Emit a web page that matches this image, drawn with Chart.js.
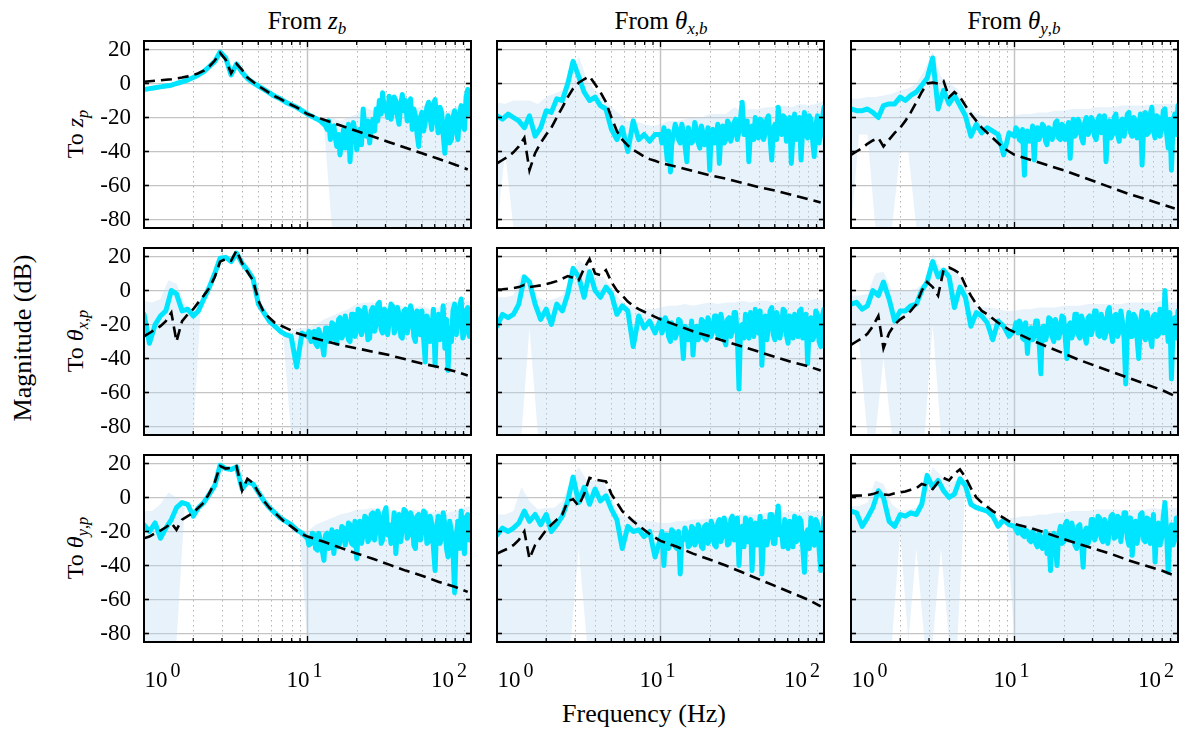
<!DOCTYPE html>
<html>
<head>
<meta charset="utf-8">
<title>Magnitude plots</title>
<script src="https://cdn.jsdelivr.net/npm/chart.js@4.4.1/dist/chart.umd.min.js"></script>
<style>
  body { margin: 0; width: 1183px; height: 730px; background: #fff; position: relative; overflow: hidden;
         font-family: "Liberation Serif", "DejaVu Serif", serif; color: #000; }
  canvas { position: absolute; }
  .txt { position: absolute; white-space: nowrap; line-height: 30px; }
  .title { font-size: 25px; top: 6px; transform: translateX(-50%); }
  .rowlbl { font-size: 24px; transform: translate(-50%, -50%) rotate(-90deg); }
  .axlbl { font-size: 26px; }
  sub { font-size: 0.68em; vertical-align: -0.3em; line-height: 0; }
</style>
</head>
<body>
<div class="txt title" style="left:307px">From <i>z</i><sub><i>b</i></sub></div>
<div class="txt title" style="left:661px">From <i>θ</i><sub><i>x</i>,<i>b</i></sub></div>
<div class="txt title" style="left:1014px">From <i>θ</i><sub><i>y</i>,<i>b</i></sub></div>
<div class="txt rowlbl" style="left:75px;top:134px">To <i>z</i><sub><i>p</i></sub></div>
<div class="txt rowlbl" style="left:75px;top:341px">To <i>θ</i><sub><i>x</i>,<i>p</i></sub></div>
<div class="txt rowlbl" style="left:75px;top:548px">To <i>θ</i><sub><i>y</i>,<i>p</i></sub></div>
<div class="txt rowlbl axlbl" style="left:23px;top:338px">Magnitude (dB)</div>
<div class="txt axlbl" style="left:644px;top:699px;transform:translateX(-50%)">Frequency (Hz)</div>
<script>
// frequency grids (Hz): 30 points in the first decade, 101 in the second
const freqHz = [
  1.00,1.08,1.17,1.26,1.36,1.47,1.58,1.71,1.85,2.00,
  2.15,2.32,2.51,2.71,2.92,3.16,3.41,3.68,3.98,4.29,
  4.64,5.01,5.41,5.84,6.31,6.81,7.36,7.94,8.58,9.26,
  10.0,10.2,10.5,10.7,11.0,11.2,11.5,11.7,12.0,12.3,
  12.6,12.9,13.2,13.5,13.8,14.1,14.5,14.8,15.1,15.5,
  15.8,16.2,16.6,17.0,17.4,17.8,18.2,18.6,19.1,19.5,
  20.0,20.4,20.9,21.4,21.9,22.4,22.9,23.4,24.0,24.5,
  25.1,25.7,26.3,26.9,27.5,28.2,28.8,29.5,30.2,30.9,
  31.6,32.4,33.1,33.9,34.7,35.5,36.3,37.2,38.0,38.9,
  39.8,40.7,41.7,42.7,43.7,44.7,45.7,46.8,47.9,49.0,
  50.1,51.3,52.5,53.7,55.0,56.2,57.5,58.9,60.3,61.7,
  63.1,64.6,66.1,67.6,69.2,70.8,72.4,74.1,75.9,77.6,
  79.4,81.3,83.2,85.1,87.1,89.1,91.2,93.3,95.5,97.7,
  100
];
const modelHz = [
  1.00,1.08,1.17,1.26,1.36,1.47,1.58,1.71,1.85,2.00,
  2.15,2.32,2.51,2.71,2.92,3.16,3.41,3.68,3.98,4.29,
  4.64,5.01,5.41,5.84,6.31,6.81,7.36,7.94,8.58,9.26,
  10.0,12.6,15.8,20.0,25.1,31.6,39.8,50.1,63.1,79.4,95.5
];
const bandHz = [
  1.00,1.12,1.26,1.41,1.58,1.78,2.00,2.24,2.51,2.82,
  3.16,3.55,3.98,4.47,5.01,5.62,6.31,7.08,7.94,8.91,
  10.0,11.2,12.6,14.1,15.8,17.8,20.0,22.4,25.1,28.2,
  31.6,35.5,39.8,44.7,50.1,56.2,63.1,70.8,79.4,89.1,100
];

const yTicksDb = [-80, -60, -40, -20, 0, 20];
const xMajorHz = [1, 10, 100];
const xMajorExp = ['0', '1', '2'];
const xMinorHz = [2, 3, 4, 5, 6, 7, 8, 9, 20, 30, 40, 50, 60, 70, 80, 90];

// ---- row 1: to z_p ----
const meas11 = [
  -3.5,-3,-2.5,-2,-1.5,-1,0,1,2,3.5, 5,7,10,13,18.5,15,5,11.5,6.5,3, 0.5,-1.5,-3.5,-5.5,-7.5,-9,-11,-12.5,-14,-16,
  -18,-18.5,-19,-19.5,-20,-20.5,-21,-21.5,-22,-23, -24,-25,-27,-22,-33,-26,-25,-32,-37,-30,
  -42,-35,-27,-38,-33,-24,-46,-30,-23,-28, -39,-33,-27,-36,-15,-25,-31,-22,-35,-26,
  -21,-28,-15,-22,-10,-18,-5.5,-16,-13,-20, -7.5,-21,-17,-8,-10,-19,-24,-12,-6.5,-16,
  -10,-22,-17,-9,-27,-15,-19,-30,-37,-20, -17,-28,-23,-14,-11,-20,-27,-12,-9.5,-22,
  -29,-14,-17,-30,-41,-24,-19,-35,-33,-20, -16,-28,-33,-18,-13,-25,-27,-8,-3.5,-18,
  -9.5
];
const model11 = [
  1.0,1.3,1.6,1.9,2.2,2.5,3,3.5,4.2,5, 6,7.5,10,13.5,18,14,6,11.5,8,3.5, 1,-1.5,-3.5,-5.5,-7.5,-9,-11,-12.5,-14,-16,
  -18,-21.3,-24.6,-28,-31.2,-34.5,-37.8,-41,-44.3,-47.6,-50.6
];
const bandHi11 = [
  -3.5,-2.8,-2,-1.2,0,1.5,3.5,6,10,16, 15,8,7,2,-1.5,-4.5,-7.5,-10,-12.5,-15,
  -18,-20,-22,-20,-22,-20,-18,-14,-16,-12, -8,-10,-8,-14,-14,-12,-14,-17,-14,-12,-5
];
const bandLo11 = [
  -3.5,-2.8,-2,-1.2,0,1.5,3.5,6,10,16, 15,8,7,2,-1.5,-4.5,-7.5,-10,-12.5,-15,
  -18,-20,-24,-85,-85,-85,-85,-85,-85,-85, -85,-85,-85,-85,-85,-85,-85,-85,-85,-85,-85
];

const meas12 = [
  -19,-21,-18,-20,-22,-26,-19,-31,-26,-16, -17,-9,-10,0,13,4,-5,-10,-8,-13, -15,-27,-33,-26,-40,-22,-33,-30,-34,-30,
  -30,-35,-26,-33,-45,-28,-52,-36,-30,-24, -27,-33,-35,-24,-28,-36,-46,-26,-29,-35,
  -34,-23,-27,-35,-38,-25,-29,-36,-34,-26, -51,-30,-27,-35,-32,-24,-47,-30,-25,-35,
  -33,-22,-24,-34,-30,-23,-21,-33,-28,-20, -11,-30,-30,-22,-46,-28,-25,-33,-20,-31,
  -32,-21,-22,-33,-29,-21,-19,-32,-45,-27, -24,-33,-14,-26,-30,-19,-20,-34,-28,-20,
  -47,-30,-18,-33,-27,-20,-45,-26,-17,-30, -32,-19,-21,-33,-43,-25,-19,-35,-30,-21,
  -14
];
const model12 = [
  -47,-45,-43,-40.5,-37,-32,-51,-41,-35,-30, -26,-20,-14,-8,-3,0.5,2.5,4.2,-0.5,-5, -11,-20,-28,-33,-36.5,-39,-41,-43,-44.5,-45.5,
  -46.7,-49,-51.5,-54,-56,-58.5,-61,-63,-65.5,-68,-70
];
const bandHi12 = [
  -11,-12,-10,-10,-10,-12,-8,-6,-4,4, 16,2,-4,-8,-14,-18,-22,-22,-24,-25,
  -24,-22,-22,-21,-20,-20,-18,-18,-18,-14, -16,-15,-15,-14,-14,-13,-14,-12,-13,-12,-10
];
const bandLo12 = [
  -85,-40,-85,-85,-85,-85,-85,-85,-85,-85, -85,-85,-85,-85,-85,-85,-85,-85,-85,-85,
  -85,-85,-85,-85,-85,-85,-85,-85,-85,-85, -85,-85,-85,-85,-85,-85,-85,-85,-85,-85,-85
];

const meas13 = [
  -15,-16,-16,-15,-17,-20,-13,-12,-12,-8, -10,-7,-5,-1,3,15,-15,-4,-12,-7, -13,-19,-31,-24,-29,-26,-28,-30,-42,-29,
  -31,-26,-28,-33,-34,-27,-54,-30,-28,-34, -32,-25,-45,-29,-26,-33,-30,-24,-25,-34,
  -36,-26,-27,-33,-30,-23,-22,-32,-33,-24, -25,-33,-31,-23,-44,-27,-21,-31,-29,-21,
  -24,-32,-35,-23,-20,-30,-28,-20,-22,-31, -33,-21,-19,-29,-28,-19,-46,-26,-22,-32,
  -30,-20,-18,-30,-34,-22,-21,-31,-26,-18, -17,-29,-31,-20,-22,-32,-28,-18,-48,-25,
  -17,-30,-29,-18,-14,-28,-32,-19,-20,-31, -27,-16,-15,-29,-38,-21,-51,-24,-18,-30,
  -13
];
const model13 = [
  -42,-40,-38,-35.5,-33.5,-32,-37,-33,-29,-26, -22,-17,-11,-5,0,0.5,0,1.5,-8,-5, -8,-13,-18,-22,-26,-29,-32,-35,-38,-40,
  -42,-45,-48,-51,-54.5,-58,-61.5,-65,-68,-71,-73.5
];
const bandHi13 = [
  -9,-9,-8,-8,-7,-6,-4,-3,0,8, 19,4,0,-3,-12,-17,-19,-20,-20,-20,
  -19,-18,-18,-17,-17,-16,-16,-15,-15,-15, -14,-14,-14,-13,-13,-13,-13,-12,-12,-12,-12
];
const bandLo13 = [
  -85,-30,-30,-85,-85,-85,-40,-40,-85,-85, -85,-85,-85,-85,-85,-85,-85,-85,-85,-85,
  -85,-85,-85,-85,-85,-85,-85,-85,-85,-85, -85,-85,-85,-85,-85,-85,-85,-85,-85,-85,-85
];

// ---- row 2: to theta_x,p ----
const meas21 = [
  -14,-31,-20,-15,-12,0,-2,-12,-11,-15, -12,-5,2,10,19,19.5,17,22,16,12, 7,-8,-13,-18,-21,-24,-26,-27,-45,-25,
  -27,-24,-30,-25,-24,-31,-33,-23,-26,-32, -38,-22,-22,-30,-29,-19,-20,-29,-31,-17,
  -16,-28,-26,-15,-19,-29,-30,-14,-14,-27, -24,-11,-12,-26,-22,-10,-16,-29,-28,-12,
  -10,-24,-20,-8,-7,-23,-25,-11,-12,-26, -18,-8,-9,-25,-22,-10,-14,-27,-28,-12,
  -11,-25,-20,-9,-13,-27,-30,-12,-16,-26, -12,-28,-42,-15,-18,-30,-25,-11,-44,-18,
  -14,-29,-21,-9,-34,-17,-47,-22,-30,-12, -8,-26,-20,-10,-5,-28,-25,-12,-10,-27,
  -15
];
const model21 = [
  -27,-25,-23,-21,-18,-13,-30,-18,-14,-11, -7,-3,1.5,8,17,18.5,17.5,23.5,16,11, 6,-6,-13,-16,-19,-20.5,-22,-23.5,-25,-26,
  -27,-29.5,-32,-34,-36,-38,-40.5,-43,-45,-47.5,-50
];
const bandHi21 = [
  -6,-7,-5,6,4,-8,-12,-5,2,12, 19.5,20,16,9,-8,-16,-21,-25,-24,-22,
  -22,-20,-17,-15,-13,-11,-8,-7,-7,-9, -9,-8,-10,-10,-9,-11,-10,-7,-6,-6,-6
];
const bandLo21 = [
  -85,-85,-85,-85,-85,-85,-85,-5,2,12, 19.5,20,16,9,-8,-16,-21,-25,-85,-85,
  -85,-85,-85,-85,-85,-85,-85,-85,-85,-85, -85,-85,-85,-85,-85,-85,-85,-85,-85,-85,-85
];

const meas22 = [
  -21,-14,-16,-14,-8,8,5,-8,-17,-11, -20,-8,-12,-2,13,8,-4,11,0,-4, 2,-2,-14,-9,-12,-33,-15,-22,-18,-25,
  -17,-25,-22,-16,-19,-27,-30,-19,-22,-28, -25,-17,-18,-27,-40,-21,-23,-29,-28,-18,
  -38,-24,-21,-29,-26,-17,-18,-28,-29,-16, -20,-27,-24,-15,-15,-26,-27,-14,-19,-29,
  -32,-17,-16,-27,-24,-13,-13,-26,-58,-22, -20,-28,-14,-25,-28,-13,-17,-27,-11,-24,
  -25,-12,-44,-20,-15,-29,-22,-12,-10,-26, -29,-13,-16,-28,-23,-11,-12,-26,-31,-15,
  -18,-28,-14,-25,-27,-12,-11,-28,-22,-14, -43,-20,-16,-29,-27,-12,-14,-30,-33,-15,
  -11
];
const model22 = [
  0.5,0.7,1,1.4,2,3.3,2,2.5,3,3.8, 4.5,5.5,7,8.5,7.5,6,13,18.5,10,9, 12,5,0,-3,-6.5,-9,-11,-12.5,-14,-15.5,
  -17,-20.5,-24,-27,-30,-33,-36,-39,-42,-44.5,-47
];
const bandHi22 = [
  -4,-4,-3,10,6,-4,-6,-5,-3,8, 18,14,9,8,2,-5,-9,-10,-11,-11,
  -10,-9,-9,-8,-9,-8,-7,-8,-7,-7, -6,-7,-6,-6,-7,-6,-6,-6,-6,-5,-6
];
const bandLo22 = [
  -85,-85,-85,-85,-22,-85,-85,-85,-85,-85, -85,-85,-85,-85,-85,-85,-85,-85,-85,-85,
  -85,-85,-85,-85,-85,-85,-85,-85,-85,-85, -85,-85,-85,-85,-85,-85,-85,-85,-85,-85,-85
];

const meas23 = [
  -8,-7,-11,-9,0,-3,5,-5,-18,-12, -12,-9,-8,0,5,17,8,12,8,-10, 2,-4,-21,-13,-15,-19,-29,-18,-21,-27,
  -23,-19,-25,-18,-20,-28,-29,-19,-37,-23, -22,-29,-27,-18,-18,-28,-49,-22,-21,-29,
  -26,-16,-17,-27,-30,-17,-20,-28,-24,-15, -16,-27,-40,-21,-19,-28,-25,-14,-14,-26,
  -28,-15,-18,-27,-31,-16,-15,-26,-22,-12, -12,-26,-27,-14,-17,-28,-25,-12,-10,-24,
  -30,-15,-14,-27,-24,-12,-18,-28,-55,-22, -13,-27,-27,-14,-16,-28,-40,-19,-12,-26,
  -29,-13,-17,-28,-33,-15,-14,-27,-26,-11, -12,-25,0,-18,-30,-13,-52,-22,-16,-28,
  -12
];
const model23 = [
  -32,-30,-28,-25.5,-21,-15,-34,-25,-20,-17, -15,-12,-8,0,5,2,-3,12,13.5,12, 10,3,-3,-8,-12,-14,-16.5,-19,-21,-23,
  -24.5,-29,-33,-37,-41,-44.5,-48,-51.5,-55,-58.5,-62
];
const bandHi23 = [
  -3,-3,-2,10,11,0,0,0,1,5, 22,13,13,10,2,-8,-10,-10,-11,-12,
  -12,-11,-11,-10,-10,-10,-9,-9,-9,-8, -8,-8,-8,-8,-7,-7,-7,-7,-6,-7,-7
];
const bandLo23 = [
  -30,-30,-85,-85,-40,-85,-85,-85,-85,-85, -20,-85,-85,-85,-85,-85,-85,-85,-85,-85,
  -85,-85,-85,-85,-85,-85,-85,-85,-85,-85, -85,-85,-85,-85,-85,-85,-85,-85,-85,-85,-85
];

// ---- row 3: to theta_y,p ----
const meas31 = [
  -16,-20,-15,-24,-18,-13,-6,-3,-4,-11, -6,-3,2,7,19,17,16.5,18,5,9, 8,3,-2,-6,-9,-12,-14,-16,-19,-21,
  -24,-28,-27,-21,-22,-30,-31,-21,-25,-31, -37,-22,-21,-30,-28,-19,-33,-23,-20,-29,
  -26,-17,-18,-28,-24,-15,-16,-27,-28,-14, -36,-20,-14,-27,-22,-11,-12,-26,-24,-10,
  -9,-25,-19,-8,-11,-27,-25,-9,-6,-22, -16,-27,-21,-9,-33,-18,-10,-26,-18,-7,
  -8,-24,-22,-9,-12,-28,-30,-11,-10,-25, -20,-8,-9,-27,-26,-11,-15,-29,-43,-17,
  -11,-27,-24,-9,-16,-30,-35,-14,-20,-32, -56,-22,-14,-30,-8,-26,-33,-12,-10,-25,
  -18
];
const model31 = [
  -24,-23,-21,-19.5,-17.5,-15,-19,-13,-11,-9, -6,-3,2.5,9,18.5,17,17.5,18.5,4,11, 8.5,3,-2,-6,-9,-12,-15,-17,-19.5,-21.5,
  -23,-26,-29.5,-33,-36,-39.5,-43,-46,-49.5,-52.5,-55.5
];
const bandHi31 = [
  -8,-8,-4,3,0,-3,-11,-6,2,12, 19,17,7,8,3,-4,-9,-13,-16,-20,
  -20,-16,-14,-12,-10,-9,-7,-7,-6,-8, -7,-8,-8,-7,-8,-9,-8,-9,-8,-6,-5
];
const bandLo31 = [
  -85,-85,-85,-85,-85,-3,-11,-6,2,12, 19,17,7,8,3,-4,-9,-13,-16,-20,
  -85,-85,-85,-85,-85,-85,-85,-85,-85,-85, -85,-85,-85,-85,-85,-85,-85,-85,-85,-85,-85
];

const meas32 = [
  -22,-18,-20,-18,-15,-8,-14,-10,-16,-10, -20,-16,-11,-2,12,-3,6,-4,5,-2, 1,-7,-13,-30,-17,-20,-19,-23,-20,-35,
  -24,-20,-40,-22,-22,-30,-27,-19,-20,-29, -30,-20,-45,-24,-25,-18,-21,-29,-28,-17,
  -18,-28,-26,-16,-19,-29,-30,-17,-16,-27, -25,-14,-17,-28,-29,-15,-13,-26,-22,-12,
  -16,-28,-27,-13,-11,-25,-24,-12,-40,-20, -17,-29,-12,-26,-26,-13,-43,-21,-15,-28,
  -21,-11,-45,-24,-14,-28,-23,-10,-10,-27, -27,-12,-5,-22,-20,-29,-13,-27,-30,-14,
  -16,-29,-11,-26,-25,-12,-14,-29,-44,-22, -19,-30,-12,-27,-28,-13,-15,-30,-43,-20,
  -12
];
const model32 = [
  -33,-31.5,-30,-28,-25,-20,-36,-28,-23.5,-19, -16,-13,-10,-2,-1,-5,2,11.5,10.5,10, 9.5,2,-3,-8,-11,-14,-16.5,-19,-21.5,-23.5,
  -25.5,-29,-33,-36.5,-40,-44,-48,-52,-56,-60,-64
];
const bandHi32 = [
  -10,-10,-8,6,-2,-7,-6,-6,-2,10, 18,10,10,9,0,-10,-12,-13,-14,-14,
  -15,-15,-14,-14,-13,-13,-12,-12,-11,-11, -10,-10,-10,-9,-9,-9,-8,-9,-8,-8,-8
];
const bandLo32 = [
  -85,-85,-85,-85,-85,-85,-85,-85,-85,-85, -30,-85,-85,-85,-85,-85,-85,-85,-85,-85,
  -85,-85,-85,-85,-85,-85,-85,-85,-85,-85, -85,-85,-85,-85,-85,-85,-85,-85,-85,-85,-85
];

const meas33 = [
  -8,-9,-17,-12,-6,4,0,-14,-17,-10, -11,-9,-10,-4,13,6,10,4,0,2, 11,7,-4,-6,-7,-8,-11,-17,-13,-16,
  -17,-19,-21,-18,-19,-22,-23,-19,-20,-25, -26,-20,-22,-27,-29,-21,-24,-30,-27,-20,
  -33,-22,-43,-25,-21,-29,-40,-22,-17,-27, -26,-16,-14,-25,-24,-15,-19,-28,-30,-17,
  -16,-27,-41,-20,-18,-27,-24,-13,-13,-25, -22,-11,-12,-24,-26,-13,-15,-27,-20,-11,
  -10,-24,-23,-11,-12,-26,-18,-9,-9,-24, -28,-12,-34,-18,-14,-27,-22,-10,-9,-25,
  -26,-12,-13,-27,-20,-10,-38,-18,-15,-28, -24,-11,-3,-20,-44,-24,-16,-28,-25,-12,
  -12
];
const model33 = [
  1,1.1,1.2,1.4,2,3.2,1.8,1.5,2.5,3, 3.5,4.5,5.5,8,7,5,9,11.5,10,14, 16.5,12,5.5,0,-3,-5.5,-8,-10,-12,-14,
  -15.5,-18,-21,-24.5,-27.5,-30.5,-33.5,-37,-40,-43,-46
];
const bandHi33 = [
  -5,-5,-3,10,8,-4,-8,-7,-6,3, 18,13,9,10,8,-2,-5,-8,-10,-12,
  -12,-11,-11,-10,-10,-9,-9,-8,-8,-8, -7,-7,-7,-7,-8,-7,-7,-6,-7,-6,-6
];
const bandLo33 = [
  -85,-85,-85,-85,-85,-85,-20,-85,-30,-85, -85,-30,-85,-85,8,-2,-5,-8,-10,-12,
  -85,-85,-85,-85,-85,-85,-85,-85,-85,-85, -85,-85,-85,-85,-85,-85,-85,-85,-85,-85,-85
];

const panels = [
  [[meas11, model11, bandHi11, bandLo11], [meas12, model12, bandHi12, bandLo12], [meas13, model13, bandHi13, bandLo13]],
  [[meas21, model21, bandHi21, bandLo21], [meas22, model22, bandHi22, bandLo22], [meas23, model23, bandHi23, bandLo23]],
  [[meas31, model31, bandHi31, bandLo31], [meas32, model32, bandHi32, bandLo32], [meas33, model33, bandHi33, bandLo33]]
];

// layout of the plot boxes on the page
const plotLeft = [144, 497, 851];
const plotTop = [41, 248, 455];
const plotW = 327, plotH = 187;
const padL = 70, padR = 6, padT = 6, padB = 55;
const serif = '"Liberation Serif", "DejaVu Serif", serif';

function xy(xs, ys) {
  return xs.map((x, i) => ({ x: x, y: ys[i] }));
}

function line(ctx, x1, y1, x2, y2) {
  ctx.beginPath();
  ctx.moveTo(x1, y1);
  ctx.lineTo(x2, y2);
  ctx.stroke();
}

// grid on the log axis, box, inner ticks and 10^n labels
const bodeFrame = {
  id: 'bodeFrame',
  beforeDatasetsDraw(chart) {
    const { ctx, chartArea: a, scales: { x } } = chart;
    ctx.save();
    ctx.strokeStyle = '#b3b3b3';
    ctx.lineWidth = 1;
    ctx.setLineDash([1.5, 3.5]);
    xMinorHz.forEach(v => {
      const px = Math.round(x.getPixelForValue(v)) + 0.5;
      line(ctx, px, a.top, px, a.bottom);
    });
    ctx.setLineDash([]);
    ctx.strokeStyle = '#c4c4c4';
    ctx.lineWidth = 1.5;
    xMajorHz.forEach(v => {
      const px = x.getPixelForValue(v);
      line(ctx, px, a.top, px, a.bottom);
    });
    ctx.restore();
  },
  afterDatasetsDraw(chart) {
    const { ctx, chartArea: a, scales: { x, y } } = chart;
    ctx.save();
    ctx.strokeStyle = '#000';
    ctx.lineWidth = 1.3;
    xMinorHz.concat(xMajorHz).forEach(v => {
      const px = x.getPixelForValue(v);
      const len = xMajorHz.includes(v) ? 6 : 4;
      line(ctx, px, a.top, px, a.top + len);
      line(ctx, px, a.bottom, px, a.bottom - len);
    });
    ctx.lineWidth = 1.6;
    yTicksDb.forEach(v => {
      const py = y.getPixelForValue(v);
      line(ctx, a.left, py, a.left + 5, py);
      line(ctx, a.right, py, a.right - 5, py);
    });
    ctx.lineWidth = 2;
    ctx.strokeRect(a.left, a.top, a.right - a.left, a.bottom - a.top);
    ctx.restore();
  },
  afterDraw(chart, args, opts) {
    if (!opts.xLabels) return;
    const { ctx, chartArea: a, scales: { x } } = chart;
    const base = a.bottom + 45;
    ctx.save();
    ctx.fillStyle = '#000';
    ctx.textBaseline = 'alphabetic';
    ctx.textAlign = 'left';
    xMajorHz.forEach((v, i) => {
      ctx.font = '23px ' + serif;
      const w1 = ctx.measureText('10').width;
      ctx.font = '20px ' + serif;
      const w2 = ctx.measureText(xMajorExp[i]).width;
      const total = w1 + 3 + w2;
      let left = x.getPixelForValue(v) - total / 2 - 3;
      if (i === 0) left = a.left + 0.5;
      if (i === xMajorHz.length - 1) left = a.right - 4 - total;
      ctx.font = '23px ' + serif;
      ctx.fillText('10', left, base);
      ctx.font = '20px ' + serif;
      ctx.fillText(xMajorExp[i], left + w1 + 3, base - 10);
    });
    ctx.restore();
  }
};

function makePanel(r, c) {
  const [meas, model, hi, lo] = panels[r][c];
  const cv = document.createElement('canvas');
  cv.width = plotW + padL + padR;
  cv.height = plotH + padT + padB;
  cv.style.left = (plotLeft[c] - padL) + 'px';
  cv.style.top = (plotTop[r] - padT) + 'px';
  document.body.appendChild(cv);

  return new Chart(cv, {
    type: 'line',
    data: {
      datasets: [
        { data: xy(modelHz, model), borderColor: '#000', borderWidth: 2.6, borderDash: [11, 6],
          pointRadius: 0, fill: false, order: 0 },
        { data: xy(freqHz, meas), borderColor: '#00e5ff', borderWidth: 5, pointRadius: 0, fill: false,
          borderJoinStyle: 'round', borderCapStyle: 'round', order: 1 },
        { data: xy(bandHz, hi), borderColor: 'rgba(0,0,0,0)', borderWidth: 1, pointRadius: 0,
          fill: 3, backgroundColor: 'rgba(190,218,242,0.35)', order: 2 },
        { data: xy(bandHz, lo), borderColor: 'rgba(0,0,0,0)', borderWidth: 1, pointRadius: 0,
          fill: false, order: 3 }
      ]
    },
    options: {
      responsive: false,
      animation: false,
      devicePixelRatio: 1,
      events: [],
      layout: { padding: { left: 0, right: padR, top: padT, bottom: padB } },
      plugins: {
        legend: { display: false },
        tooltip: { enabled: false },
        bodeFrame: { xLabels: r === 2 }
      },
      scales: {
        x: { type: 'logarithmic', min: 1, max: 100, display: false },
        y: {
          type: 'linear', min: -85, max: 25,
          afterBuildTicks: s => { s.ticks = yTicksDb.map(v => ({ value: v })); },
          afterFit: s => { s.width = padL; s.paddingTop = 0; s.paddingBottom = 0; },
          grid: { color: '#c4c4c4', lineWidth: 1.3, drawTicks: false },
          border: { display: false },
          ticks: { display: c === 0, padding: 13, color: '#000',
                   font: { family: 'Liberation Serif', size: 23 } }
        }
      }
    },
    plugins: [bodeFrame]
  });
}

for (let r = 0; r < 3; r++)
  for (let c = 0; c < 3; c++)
    makePanel(r, c);
</script>
</body>
</html>
